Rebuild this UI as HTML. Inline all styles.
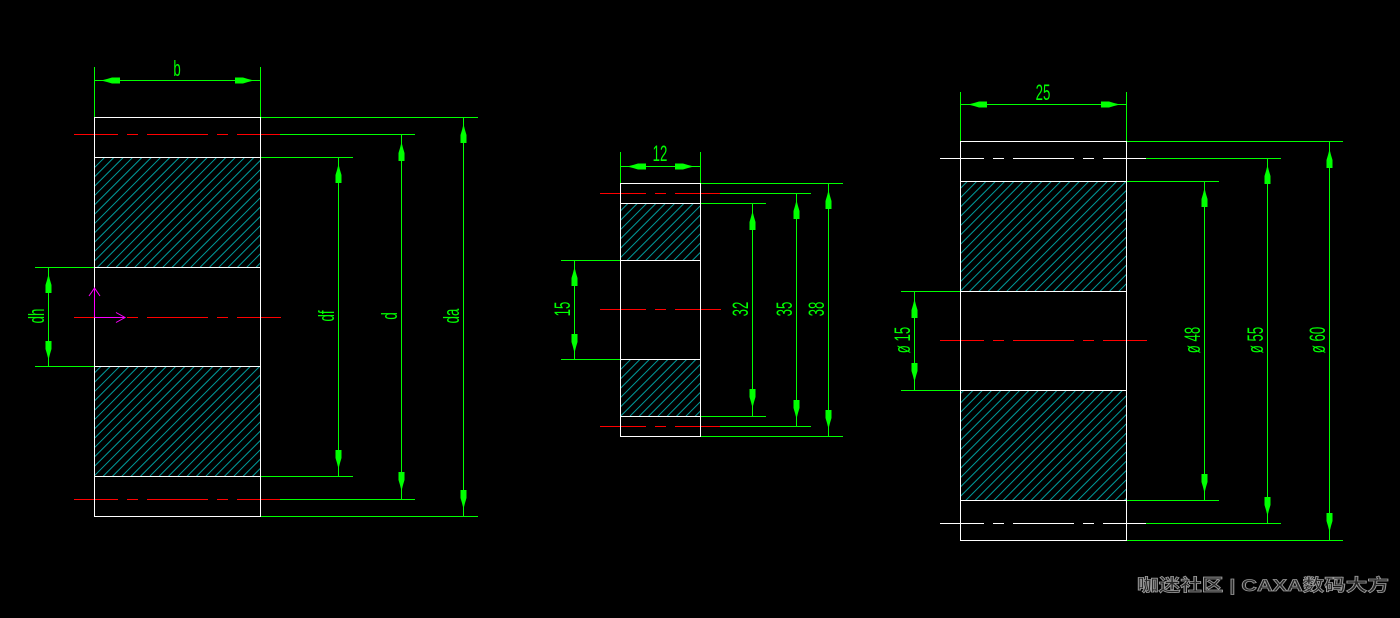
<!DOCTYPE html>
<html><head><meta charset="utf-8"><style>
html,body{margin:0;padding:0;background:#000;}
svg{display:block;}
</style></head><body>
<svg width="1400" height="618" viewBox="0 0 1400 618" xmlns="http://www.w3.org/2000/svg">
<defs>
<pattern id="h" width="6.6" height="20" patternUnits="userSpaceOnUse" patternTransform="rotate(45)">
<line x1="0.5" y1="0" x2="0.5" y2="20" stroke="#00ffff" stroke-opacity="0.62" stroke-width="1"/>
</pattern>
<path id="ar" d="M0,0 L1.5,6 L3,11 L3,19 L-3,19 L-3,11 L-1.5,6 Z" fill="#00ff00"/>
</defs>
<rect width="1400" height="618" fill="#000"/>

<!-- ===== LEFT GEAR ===== -->
<rect x="94.5" y="157.5" width="166" height="110" fill="url(#h)"/>
<rect x="94.5" y="366.5" width="166" height="110" fill="url(#h)"/>
<g stroke="#00ff00" stroke-width="1" fill="none">
<line x1="94.5" y1="67" x2="94.5" y2="117.5"/>
<line x1="260.5" y1="67" x2="260.5" y2="117.5"/>
<line x1="94.5" y1="80.5" x2="260.5" y2="80.5"/>
<line x1="260.5" y1="117.5" x2="478" y2="117.5"/>
<line x1="260.5" y1="516.5" x2="478" y2="516.5"/>
<line x1="280" y1="134.5" x2="415" y2="134.5"/>
<line x1="280" y1="499.5" x2="415" y2="499.5"/>
<line x1="260.5" y1="157.5" x2="353" y2="157.5"/>
<line x1="260.5" y1="476.5" x2="353" y2="476.5"/>
<line x1="35" y1="267.5" x2="94.5" y2="267.5"/>
<line x1="35" y1="366.5" x2="94.5" y2="366.5"/>
<line x1="338.5" y1="157.5" x2="338.5" y2="476.5"/>
<line x1="401.5" y1="134.5" x2="401.5" y2="499.5"/>
<line x1="463.5" y1="117.5" x2="463.5" y2="516.5"/>
<line x1="48.5" y1="267.5" x2="48.5" y2="366.5"/>
</g>
<g stroke="#ff0000" stroke-width="1">
<path d="M74,134.5H118M127,134.5H138M147,134.5H208M217,134.5H228M237,134.5H280"/>
<path d="M74,499.5H118M127,499.5H138M147,499.5H208M217,499.5H228M237,499.5H280"/>
<path d="M74,317.5H118M127,317.5H138M147,317.5H208M217,317.5H228M237,317.5H281"/>
</g>
<g stroke="#ffffff" stroke-width="1" fill="none">
<rect x="94.5" y="117.5" width="166" height="399"/>
<line x1="94.5" y1="157.5" x2="260.5" y2="157.5"/>
<line x1="94.5" y1="267.5" x2="260.5" y2="267.5"/>
<line x1="94.5" y1="366.5" x2="260.5" y2="366.5"/>
<line x1="94.5" y1="476.5" x2="260.5" y2="476.5"/>
</g>
<g stroke="#ff00ff" stroke-width="1" fill="none">
<line x1="94.5" y1="317.5" x2="94.5" y2="288"/>
<polyline points="89,296 94.5,288 100,296"/>
<line x1="94.5" y1="317.5" x2="125" y2="317.5"/>
<polyline points="116,312.5 125,317.5 116,322.5"/>
</g>
<use href="#ar" transform="translate(101,80.5) rotate(-90)"/>
<use href="#ar" transform="translate(254,80.5) rotate(90)"/>
<use href="#ar" transform="translate(338.5,164)"/>
<use href="#ar" transform="translate(338.5,469) rotate(180)"/>
<use href="#ar" transform="translate(401.5,142)"/>
<use href="#ar" transform="translate(401.5,491) rotate(180)"/>
<use href="#ar" transform="translate(463.5,124)"/>
<use href="#ar" transform="translate(463.5,509) rotate(180)"/>
<use href="#ar" transform="translate(48.5,274)"/>
<use href="#ar" transform="translate(48.5,360) rotate(180)"/>
<g fill="#00ff00" font-family="Liberation Sans, sans-serif" font-size="22" text-anchor="middle">
<text transform="translate(177,76) scale(0.6,1)">b</text>
<text transform="translate(44,316) rotate(-90) scale(0.6,1)">dh</text>
<text transform="translate(334,316) rotate(-90) scale(0.6,1)">df</text>
<text transform="translate(397,316) rotate(-90) scale(0.6,1)">d</text>
<text transform="translate(459,316) rotate(-90) scale(0.6,1)">da</text>
</g>

<!-- ===== MIDDLE GEAR ===== -->
<rect x="620.5" y="203.5" width="80" height="57" fill="url(#h)"/>
<rect x="620.5" y="359.5" width="80" height="57" fill="url(#h)"/>
<g stroke="#00ff00" stroke-width="1" fill="none">
<line x1="620.5" y1="152" x2="620.5" y2="183.5"/>
<line x1="700.5" y1="152" x2="700.5" y2="183.5"/>
<line x1="620.5" y1="166.5" x2="700.5" y2="166.5"/>
<line x1="700.5" y1="183.5" x2="843" y2="183.5"/>
<line x1="700.5" y1="436.5" x2="843" y2="436.5"/>
<line x1="720" y1="193.5" x2="811" y2="193.5"/>
<line x1="720" y1="426.5" x2="811" y2="426.5"/>
<line x1="700.5" y1="203.5" x2="766" y2="203.5"/>
<line x1="700.5" y1="416.5" x2="766" y2="416.5"/>
<line x1="561" y1="260.5" x2="620.5" y2="260.5"/>
<line x1="561" y1="359.5" x2="620.5" y2="359.5"/>
<line x1="574.5" y1="260.5" x2="574.5" y2="359.5"/>
<line x1="752.5" y1="203.5" x2="752.5" y2="416.5"/>
<line x1="796.5" y1="193.5" x2="796.5" y2="426.5"/>
<line x1="828.5" y1="183.5" x2="828.5" y2="436.5"/>
</g>
<g stroke="#ff0000" stroke-width="1">
<path d="M600,193.5H646M655,193.5H666M675,193.5H720"/>
<path d="M600,426.5H646M655,426.5H666M675,426.5H720"/>
<path d="M600,309.5H646M655,309.5H666M675,309.5H721"/>
</g>
<g stroke="#ffffff" stroke-width="1" fill="none">
<rect x="620.5" y="183.5" width="80" height="253"/>
<line x1="620.5" y1="203.5" x2="700.5" y2="203.5"/>
<line x1="620.5" y1="260.5" x2="700.5" y2="260.5"/>
<line x1="620.5" y1="359.5" x2="700.5" y2="359.5"/>
<line x1="620.5" y1="416.5" x2="700.5" y2="416.5"/>
</g>
<use href="#ar" transform="translate(627,166.5) rotate(-90)"/>
<use href="#ar" transform="translate(694,166.5) rotate(90)"/>
<use href="#ar" transform="translate(574.5,267)"/>
<use href="#ar" transform="translate(574.5,353) rotate(180)"/>
<use href="#ar" transform="translate(752.5,211)"/>
<use href="#ar" transform="translate(752.5,408) rotate(180)"/>
<use href="#ar" transform="translate(796.5,200)"/>
<use href="#ar" transform="translate(796.5,419) rotate(180)"/>
<use href="#ar" transform="translate(828.5,190)"/>
<use href="#ar" transform="translate(828.5,429) rotate(180)"/>
<g fill="#00ff00" font-family="Liberation Sans, sans-serif" font-size="22" text-anchor="middle">
<text transform="translate(660,161) scale(0.6,1)">12</text>
<text transform="translate(570,309) rotate(-90) scale(0.6,1)">15</text>
<text transform="translate(748,309) rotate(-90) scale(0.6,1)">32</text>
<text transform="translate(792,309) rotate(-90) scale(0.6,1)">35</text>
<text transform="translate(824,309) rotate(-90) scale(0.6,1)">38</text>
</g>

<!-- ===== RIGHT GEAR ===== -->
<rect x="960.5" y="181.5" width="166" height="110" fill="url(#h)"/>
<rect x="960.5" y="390.5" width="166" height="110" fill="url(#h)"/>
<g stroke="#00ff00" stroke-width="1" fill="none">
<line x1="960.5" y1="92" x2="960.5" y2="141.5"/>
<line x1="1126.5" y1="92" x2="1126.5" y2="141.5"/>
<line x1="960.5" y1="104.5" x2="1126.5" y2="104.5"/>
<line x1="1126.5" y1="141.5" x2="1343" y2="141.5"/>
<line x1="1126.5" y1="540.5" x2="1343" y2="540.5"/>
<line x1="1146" y1="158.5" x2="1281" y2="158.5"/>
<line x1="1146" y1="523.5" x2="1281" y2="523.5"/>
<line x1="1126.5" y1="181.5" x2="1219" y2="181.5"/>
<line x1="1126.5" y1="500.5" x2="1219" y2="500.5"/>
<line x1="901" y1="291.5" x2="960.5" y2="291.5"/>
<line x1="901" y1="390.5" x2="960.5" y2="390.5"/>
<line x1="914.5" y1="291.5" x2="914.5" y2="390.5"/>
<line x1="1204.5" y1="181.5" x2="1204.5" y2="500.5"/>
<line x1="1267.5" y1="158.5" x2="1267.5" y2="523.5"/>
<line x1="1329.5" y1="141.5" x2="1329.5" y2="540.5"/>
</g>
<g stroke="#ffffff" stroke-width="1">
<path d="M940,158.5H984M993,158.5H1004M1013,158.5H1074M1083,158.5H1094M1103,158.5H1146"/>
<path d="M940,523.5H984M993,523.5H1004M1013,523.5H1074M1083,523.5H1094M1103,523.5H1146"/>
</g>
<g stroke="#ff0000" stroke-width="1">
<path d="M940,340.5H984M993,340.5H1004M1013,340.5H1074M1083,340.5H1094M1103,340.5H1147"/>
</g>
<g stroke="#ffffff" stroke-width="1" fill="none">
<rect x="960.5" y="141.5" width="166" height="399"/>
<line x1="960.5" y1="181.5" x2="1126.5" y2="181.5"/>
<line x1="960.5" y1="291.5" x2="1126.5" y2="291.5"/>
<line x1="960.5" y1="390.5" x2="1126.5" y2="390.5"/>
<line x1="960.5" y1="500.5" x2="1126.5" y2="500.5"/>
</g>
<use href="#ar" transform="translate(968,104.5) rotate(-90)"/>
<use href="#ar" transform="translate(1120,104.5) rotate(90)"/>
<use href="#ar" transform="translate(914.5,299)"/>
<use href="#ar" transform="translate(914.5,382) rotate(180)"/>
<use href="#ar" transform="translate(1204.5,188)"/>
<use href="#ar" transform="translate(1204.5,493) rotate(180)"/>
<use href="#ar" transform="translate(1267.5,165)"/>
<use href="#ar" transform="translate(1267.5,516) rotate(180)"/>
<use href="#ar" transform="translate(1329.5,149)"/>
<use href="#ar" transform="translate(1329.5,532) rotate(180)"/>
<g fill="#00ff00" font-family="Liberation Sans, sans-serif" font-size="22" text-anchor="middle">
<text transform="translate(1043,100) scale(0.6,1)">25</text>
<text transform="translate(910,340) rotate(-90) scale(0.6,1)">ø 15</text>
<text transform="translate(1200,340) rotate(-90) scale(0.6,1)">ø 48</text>
<text transform="translate(1263,340) rotate(-90) scale(0.6,1)">ø 55</text>
<text transform="translate(1325,340) rotate(-90) scale(0.6,1)">ø 60</text>
</g>

<!-- watermark -->
<text x="1137" y="591" font-family="Liberation Sans, 'Noto Sans CJK SC', sans-serif" font-size="17" font-weight="bold" fill="#262626" stroke="#9a9a9a" stroke-width="0.8" textLength="252" lengthAdjust="spacingAndGlyphs">咖迷社区 | CAXA数码大方</text>
</svg>
</body></html>
